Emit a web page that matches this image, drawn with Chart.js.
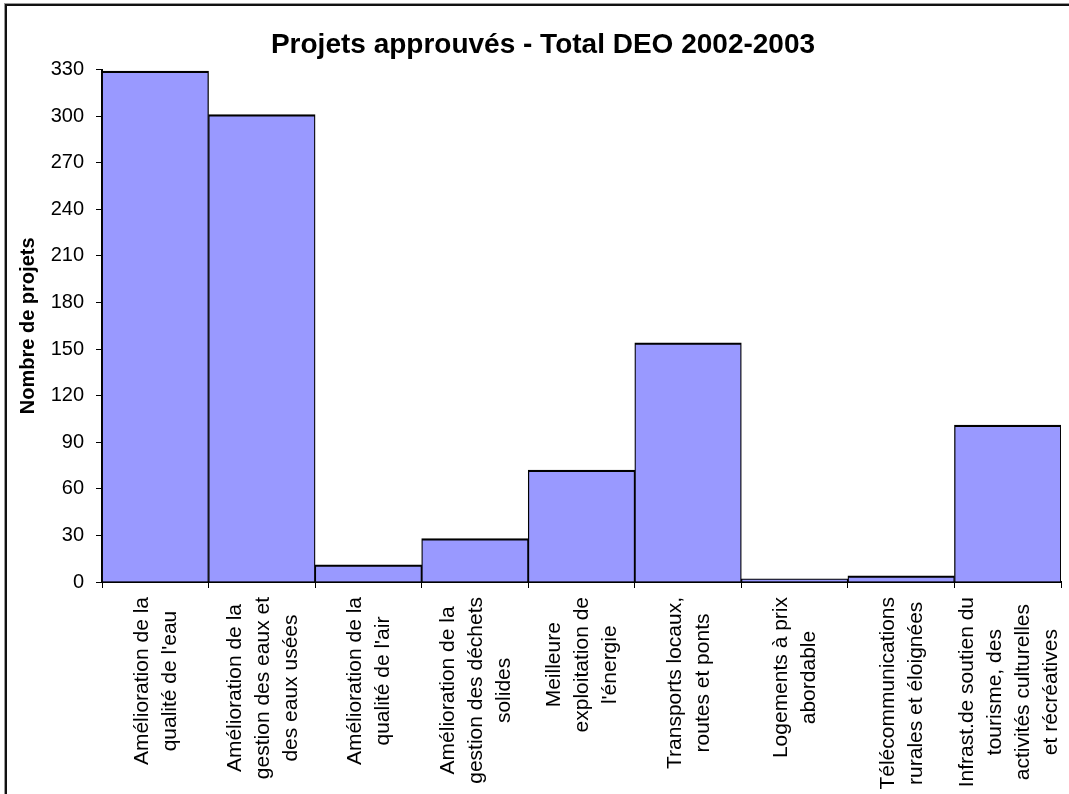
<!DOCTYPE html>
<html>
<head>
<meta charset="utf-8">
<script src="https://cdn.jsdelivr.net/npm/chart.js@4/dist/chart.umd.min.js"></script>
<style>
  html, body { margin: 0; padding: 0; background: #fff; overflow: hidden; }
  #wrap { position: relative; width: 1069px; height: 794px; }
  #frame { position: absolute; left: 5px; top: 4px; right: -10px; bottom: -10px;
           border-left: 2px solid #111; border-top: 2px solid #111;
           box-shadow: -1px -1px 0 #999; pointer-events: none; }
  canvas { position: absolute; left: 0; top: 0; }
</style>
</head>
<body>
<div id="wrap">
  <canvas id="c" width="1069" height="794"></canvas>
  <div id="frame"></div>
</div>
<script>
const chartTitle = 'Projets approuvés - Total DEO 2002-2003';
const yAxisTitle = 'Nombre de projets';
const categories = [
  ['Amélioration de la', "qualité de l'eau"],
  ['Amélioration de la', 'gestion des eaux et', 'des eaux usées'],
  ['Amélioration de la', "qualité de l'air"],
  ['Amélioration de la', 'gestion des déchets', 'solides'],
  ['Meilleure', 'exploitation de', "l'énergie"],
  ['Transports locaux,', 'routes et ponts'],
  ['Logements à prix', 'abordable'],
  ['Télécommunications', 'rurales et éloignées'],
  ['Infrast.de soutien du', 'tourisme, des', 'activités culturelles', 'et récréatives']
];
const projectCounts = [329, 301, 11, 28, 72, 154, 2, 4, 101];
const yMin = 0;
const yMax = 330;
const yStep = 30;

const FONT = "'Liberation Sans', Arial, Helvetica, sans-serif";

const centeredRotatedLabels = {
  id: 'centeredRotatedLabels',
  afterDraw(chart) {
    const xs = chart.scales.x;
    const ctx = chart.ctx;
    const size = 21, lh = 28;
    ctx.save();
    ctx.font = size + 'px ' + FONT;
    ctx.fillStyle = '#000';
    ctx.textAlign = 'center';
    ctx.textBaseline = 'middle';
    chart.data.labels.forEach((lab, i) => {
      const lines = Array.isArray(lab) ? lab : [lab];
      const x = xs.getPixelForValue(i);
      const w = Math.max(...lines.map(l => ctx.measureText(l).width));
      ctx.save();
      ctx.translate(x, xs.top + 15);
      ctx.rotate(-Math.PI / 2);
      const n = lines.length;
      lines.forEach((l, j) => {
        ctx.fillText(l, -w / 2, (j - (n - 1) / 2) * lh + 1);
      });
      ctx.restore();
    });
    ctx.restore();
  }
};

new Chart(document.getElementById('c'), {
  type: 'bar',
  data: {
    labels: categories,
    datasets: [{
      data: projectCounts,
      backgroundColor: '#9999FF',
      borderColor: '#000',
      borderWidth: { top: 2.2, left: 1.3, right: 1.3, bottom: 0 },
      borderSkipped: false,
      barPercentage: 1,
      categoryPercentage: 1
    }]
  },
  options: {
    responsive: false,
    animation: false,
    devicePixelRatio: 1,
    layout: { padding: { left: 25, right: 8, top: 0, bottom: 0 } },
    plugins: {
      legend: { display: false },
      tooltip: { enabled: false },
      title: {
        display: true,
        text: chartTitle,
        color: '#000',
        font: { family: FONT, size: 28, weight: 'bold' },
        padding: { top: 28, bottom: 8 }
      }
    },
    scales: {
      x: {
        grid: { display: true, offset: true, drawOnChartArea: false, drawTicks: true,
                tickLength: 6, color: '#000', lineWidth: 1 },
        border: { display: true, color: '#000', width: 2 },
        ticks: { display: false },
        afterFit(scale) { scale.height = 212; }
      },
      y: {
        min: yMin,
        max: yMax,
        grid: { display: true, drawOnChartArea: false, drawTicks: true,
                tickLength: 6, color: '#000', lineWidth: 1 },
        border: { display: true, color: '#000', width: 2 },
        ticks: { stepSize: yStep, color: '#000', padding: 12,
                 font: { family: FONT, size: 20 } },
        title: { display: true, text: yAxisTitle, color: '#000',
                 font: { family: FONT, size: 20, weight: 'bold' },
                 padding: { top: -9, bottom: 0 } },
        afterFit(scale) { scale.width = 77; }
      }
    }
  },
  plugins: [centeredRotatedLabels]
});
</script>
</body>
</html>
